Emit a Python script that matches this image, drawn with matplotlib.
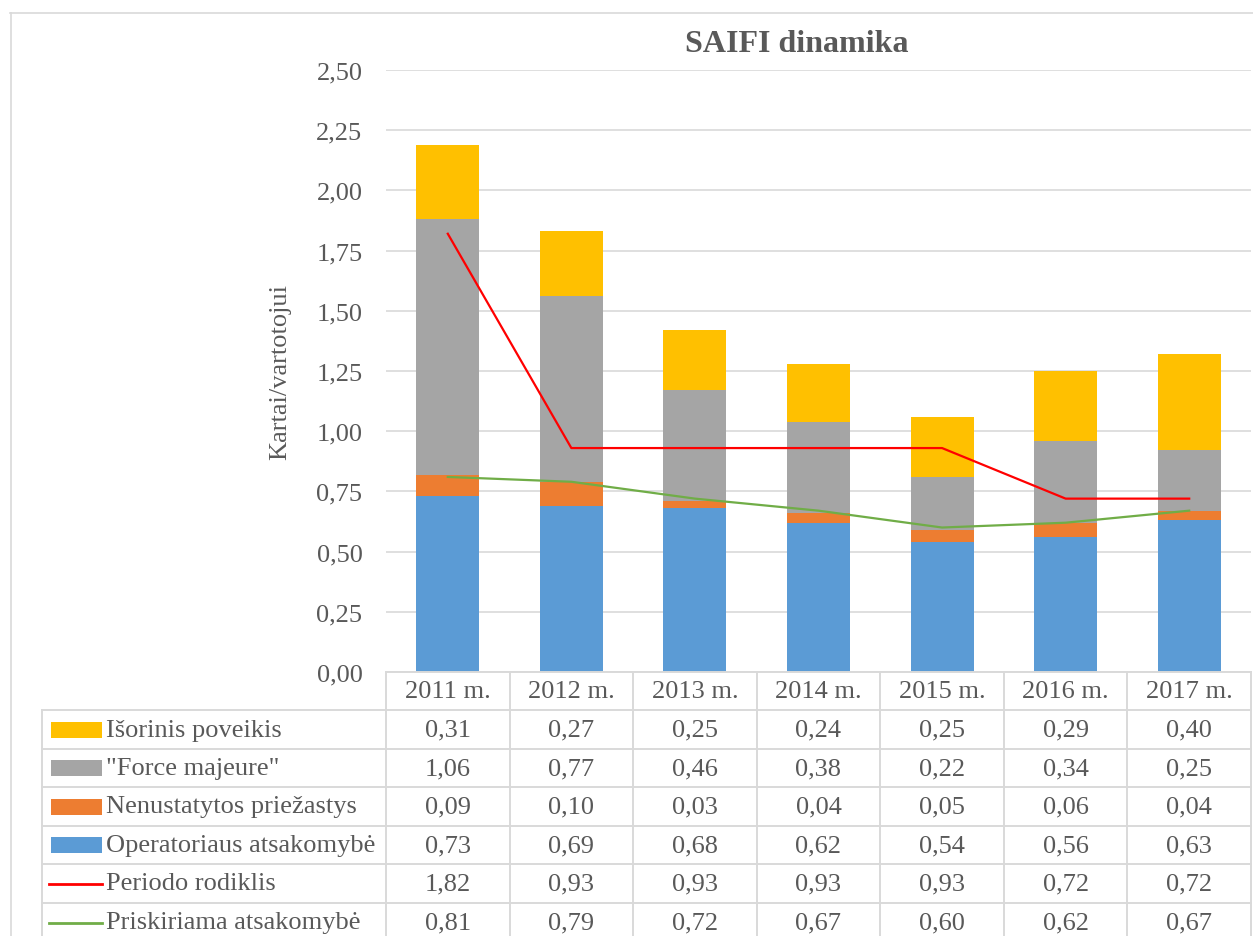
import matplotlib
matplotlib.use("Agg")
import matplotlib.pyplot as plt
from matplotlib.patches import Rectangle
from matplotlib.lines import Line2D
from matplotlib.transforms import blended_transform_factory
from matplotlib.ticker import FuncFormatter, MultipleLocator

plt.rcParams['font.family'] = ['Liberation Serif', 'DejaVu Serif']

# ---- data ----
years = ["2011 m.", "2012 m.", "2013 m.", "2014 m.", "2015 m.", "2016 m.", "2017 m."]
isorinis = [0.31, 0.27, 0.25, 0.24, 0.25, 0.29, 0.40]
force_majeure = [1.06, 0.77, 0.46, 0.38, 0.22, 0.34, 0.25]
nenustatytos = [0.09, 0.10, 0.03, 0.04, 0.05, 0.06, 0.04]
operatoriaus = [0.73, 0.69, 0.68, 0.62, 0.54, 0.56, 0.63]
periodo = [1.82, 0.93, 0.93, 0.93, 0.93, 0.72, 0.72]
priskiriama = [0.81, 0.79, 0.72, 0.67, 0.60, 0.62, 0.67]

series_names = ["Išorinis poveikis", "\"Force majeure\"", "Nenustatytos priežastys",
                "Operatoriaus atsakomybė", "Periodo rodiklis", "Priskiriama atsakomybė"]

TXT = "#595959"
GRID = "#d9d9d9"
C_BLUE, C_ORANGE, C_GRAY, C_YELLOW = "#5b9bd5", "#ed7d31", "#a5a5a5", "#ffc000"
C_RED, C_GREEN = "#ff0000", "#70ad47"
FS = 19

W, H = 1253, 937
fig = plt.figure(figsize=(W / 100, H / 100), dpi=100)


def fx(px):
    return px / W


def fy(py):
    return 1 - py / H


# chart frame
fig.add_artist(Line2D([fx(10), fx(1260)], [fy(13.5), fy(13.5)], color=GRID, lw=1.2))
fig.add_artist(Line2D([fx(10.5), fx(10.5)], [fy(13.5), fy(940)], color=GRID, lw=1.2))

ax_left, ax_right, ax_top, ax_bot = 386, 1251, 71, 673
ax = fig.add_axes([fx(ax_left), fy(ax_bot), fx(ax_right - ax_left), (ax_bot - ax_top) / H])

x = list(range(len(years)))
bw = 0.51
b1 = operatoriaus
b2 = [a + b for a, b in zip(b1, nenustatytos)]
b3 = [a + b for a, b in zip(b2, force_majeure)]
ax.bar(x, operatoriaus, bw, color=C_BLUE, zorder=2)
ax.bar(x, nenustatytos, bw, bottom=b1, color=C_ORANGE, zorder=2)
ax.bar(x, force_majeure, bw, bottom=b2, color=C_GRAY, zorder=2)
ax.bar(x, isorinis, bw, bottom=b3, color=C_YELLOW, zorder=2)
ax.plot(x, periodo, color=C_RED, lw=1.6, zorder=3)
ax.plot(x, priskiriama, color=C_GREEN, lw=1.6, zorder=3)

ax.set_xlim(-0.5, len(years) - 0.5)
ax.set_ylim(0, 2.5)
ax.yaxis.set_major_locator(MultipleLocator(0.25))
ax.yaxis.set_major_formatter(FuncFormatter(lambda v, p: f"{v:.2f}".replace(".", ",")))
ax.tick_params(axis="y", length=0, pad=17, labelsize=FS, labelcolor=TXT)
ax.tick_params(axis="x", length=0, labelbottom=False)
for s in ax.spines.values():
    s.set_visible(False)
ax.grid(axis="y", color=GRID, lw=1.2, zorder=0)
ax.set_axisbelow(True)
ax.set_ylabel("Kartai/vartotojui", fontsize=FS, color=TXT, labelpad=18)

fig.text(fx(797), fy(45), "SAIFI dinamika", fontsize=23, fontweight="bold",
         color=TXT, ha="center", va="center")

# ---- data table under the chart ----
tr = blended_transform_factory(ax.transData, fig.transFigure)
rows_y = [673, 711, 750, 788, 827, 865, 904, 943]
leg_left = 42

# horizontal rules
for i, yy in enumerate(rows_y):
    x0 = fx(ax_left) if i == 0 else fx(leg_left)
    fig.add_artist(Line2D([x0, fx(ax_right)], [fy(yy), fy(yy)], color=GRID, lw=1.4))
# vertical rules
fig.add_artist(Line2D([fx(leg_left), fx(leg_left)], [fy(711), fy(943)], color=GRID, lw=1.4))
for k in range(len(years) + 1):
    ax.add_line(Line2D([k - 0.5, k - 0.5], [fy(673), fy(943)], transform=tr,
                       color=GRID, lw=1.4, clip_on=False))

# header row
for k, yr in enumerate(years):
    ax.text(k, fy((rows_y[0] + rows_y[1]) / 2), yr, transform=tr, ha="center",
            va="center", fontsize=FS, color=TXT, clip_on=False)

table_values = [isorinis, force_majeure, nenustatytos, operatoriaus, periodo, priskiriama]
swatches = [("bar", C_YELLOW), ("bar", C_GRAY), ("bar", C_ORANGE), ("bar", C_BLUE),
            ("line", C_RED), ("line", C_GREEN)]
for r, (name, vals, (kind, col)) in enumerate(zip(series_names, table_values, swatches)):
    yc = (rows_y[r + 1] + rows_y[r + 2]) / 2
    if kind == "bar":
        fig.add_artist(Rectangle((fx(51), fy(yc + 8)), fx(51), 16 / H,
                                 facecolor=col, edgecolor="none"))
    else:
        fig.add_artist(Line2D([fx(49), fx(102)], [fy(yc), fy(yc)], color=col, lw=2))
    fig.text(fx(106), fy(yc), name, fontsize=FS, color=TXT, ha="left", va="center")
    for k, v in enumerate(vals):
        ax.text(k, fy(yc), f"{v:.2f}".replace(".", ","), transform=tr, ha="center",
                va="center", fontsize=FS, color=TXT, clip_on=False)

fig.savefig("out.png", dpi=100, facecolor="white")
